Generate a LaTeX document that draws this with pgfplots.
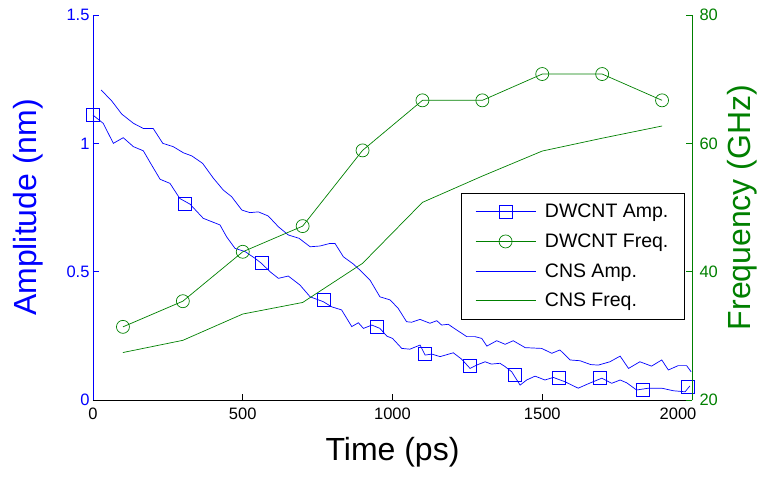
\documentclass[border=0pt]{standalone}
\usepackage{pgfplots}
\pgfplotsset{compat=1.18}
\usepackage{fontspec}
\setmainfont{Liberation Sans}
\definecolor{mblue}{rgb}{0,0,1}
\definecolor{mgreen}{rgb}{0,0.5,0}
\begin{document}
\begin{tikzpicture}
\pgfplotsset{
  base/.style={
    scale only axis, width=599pt, height=385pt,
    at={(0,0)}, anchor=south west,
    xmin=0, xmax=2000,
    tick align=inside, major tick length=6pt,
    /pgf/number format/assume math mode=true,
    /pgf/number format/1000 sep={},
    tick label style={font=\fontsize{16.5}{18}\selectfont},
    label style={font=\fontsize{32}{36}\selectfont},
  }
}
\begin{axis}[base,
  axis x line*=bottom, axis y line*=left,
  ymin=0, ymax=1.5, ytick={0,0.5,1,1.5},
  xtick={0,500,1000,1500,2000},
  xticklabel={\ifnum\ticknum=4 \pgfmathprintnumber{\tick}\hspace*{28pt}\else\pgfmathprintnumber{\tick}\fi},
  y axis line style={mblue, line width=0.8pt},
  x axis line style={black, line width=0.8pt},
  ytick style={mblue, line width=0.8pt},
  xtick style={black, line width=0.8pt},
  yticklabel style={mblue},
  xticklabel style={yshift=-4pt},
  xlabel={Time (ps)}, ylabel={Amplitude (nm)},
  ylabel style={mblue, at={(axis description cs:-0.1085,0.5)}, anchor=center},
  xlabel style={at={(axis description cs:0.5,-0.135)}, anchor=center},
]
% DWCNT Amp.
\addplot[mblue, line width=0.7pt] coordinates {
(0,1.11) (34,1.078) (68,1.0) (101,1.022) (135,0.987) (168,0.971) (196,0.915) (224,0.860) (257,0.844) (290,0.785) (324,0.763) (368,0.708) (424,0.682) (446,0.636) (474,0.591) (508,0.578) (541,0.552) (563,0.532) (591,0.500) (619,0.474) (652,0.483) (691,0.448) (725,0.402) (769,0.383) (797,0.363) (830,0.351) (864,0.286) (886,0.301) (903,0.279) (931,0.292) (958,0.279) (981,0.249) (1000,0.240) (1031,0.201) (1058,0.198) (1092,0.214) (1109,0.175) (1131,0.179) (1159,0.169) (1203,0.184) (1231,0.159) (1259,0.123) (1281,0.136) (1309,0.149) (1330,0.140) (1359,0.143) (1376,0.130) (1398,0.110) (1426,0.058) (1448,0.078) (1476,0.093) (1509,0.078) (1537,0.088) (1576,0.071) (1620,0.046) (1657,0.065) (1699,0.085) (1732,0.065) (1760,0.078) (1782,0.067) (1815,0.039) (1854,0.046) (1899,0.046) (1938,0.036) (1977,0.032) (1993,0.055)
};
\addplot[only marks, mblue, mark=square, mark size=6.5pt, mark options={line width=0.7pt}] coordinates {
(0,1.11) (307,0.766) (563,0.535) (772,0.390) (949,0.286) (1109,0.179) (1259,0.132) (1407,0.097) (1554,0.085) (1693,0.085) (1835,0.039) (1986,0.052)
};
% CNS Amp.
\addplot[mblue, line width=0.7pt] coordinates {
(27,1.208) (62,1.166) (96,1.114) (135,1.078) (168,1.058) (201,1.058) (233,1.0) (268,0.987) (302,0.963) (330,0.951) (366,0.922) (402,0.864) (435,0.818) (463,0.792) (497,0.740) (524,0.730) (552,0.733) (585,0.717) (619,0.675) (652,0.643) (688,0.630) (725,0.597) (758,0.600) (791,0.610) (808,0.610) (836,0.558) (869,0.530) (897,0.500) (925,0.467) (958,0.402) (992,0.390) (1019,0.357) (1047,0.305) (1064,0.303) (1092,0.314) (1125,0.299) (1148,0.309) (1164,0.292) (1186,0.295) (1214,0.273) (1248,0.247) (1275,0.247) (1298,0.240) (1315,0.210) (1348,0.231) (1376,0.217) (1403,0.231) (1443,0.204) (1498,0.201) (1532,0.182) (1559,0.195) (1593,0.156) (1626,0.153) (1662,0.138) (1687,0.136) (1726,0.149) (1760,0.171) (1788,0.123) (1826,0.149) (1865,0.132) (1899,0.156) (1921,0.117) (1954,0.134) (1982,0.134) (1997,0.110)
};
\end{axis}
\begin{axis}[base,
  axis x line=none, axis y line*=right,
  ymin=20, ymax=80, ytick={20,40,60,80},
  y axis line style={mgreen, line width=0.8pt},
  ytick style={mgreen, line width=0.8pt},
  yticklabel style={mgreen, xshift=4pt},
  ylabel={Frequency (GHz)},
  ylabel style={mgreen, at={(axis description cs:1.0835,0.5)}, anchor=center, rotate=0},
  legend style={at={(axis description cs:0.988,0.538)}, anchor=north east,
    draw=black, line width=0.8pt, fill=white,
    font=\fontsize{19.5}{22}\selectfont,
    row sep=10.5pt, column sep=7pt, inner xsep=14pt, inner ysep=9pt},
  legend cell align=left,
  legend image code/.code={\draw[mark repeat=2,mark phase=2,#1] plot coordinates {(0pt,0pt) (30pt,0pt) (60pt,0pt)};},
]
\addlegendimage{color=blue, draw=blue, line width=0.7pt, mark=square, mark size=6.5pt}
\addlegendentry{DWCNT Amp.}
\addplot[mgreen, line width=0.7pt, mark=o, mark size=6.5pt] coordinates {
(100,31.4) (300,35.4) (500,43.1) (700,47.1) (900,58.9) (1100,66.7) (1300,66.7) (1500,70.8) (1700,70.8) (1900,66.7)
};
\addlegendentry{DWCNT Freq.}
\addlegendimage{color=blue, draw=blue, line width=0.7pt}
\addlegendentry{CNS Amp.}
\addplot[mgreen, line width=0.7pt] coordinates {
(100,27.4) (300,29.3) (500,33.4) (700,35.2) (900,41.3) (1100,50.8) (1300,54.9) (1500,58.8) (1700,60.8) (1900,62.7)
};
\addlegendentry{CNS Freq.}
\end{axis}
\pgfresetboundingbox
\path[use as bounding box] (-93pt,-80pt) rectangle (674pt,400pt);
\end{tikzpicture}
\end{document}
